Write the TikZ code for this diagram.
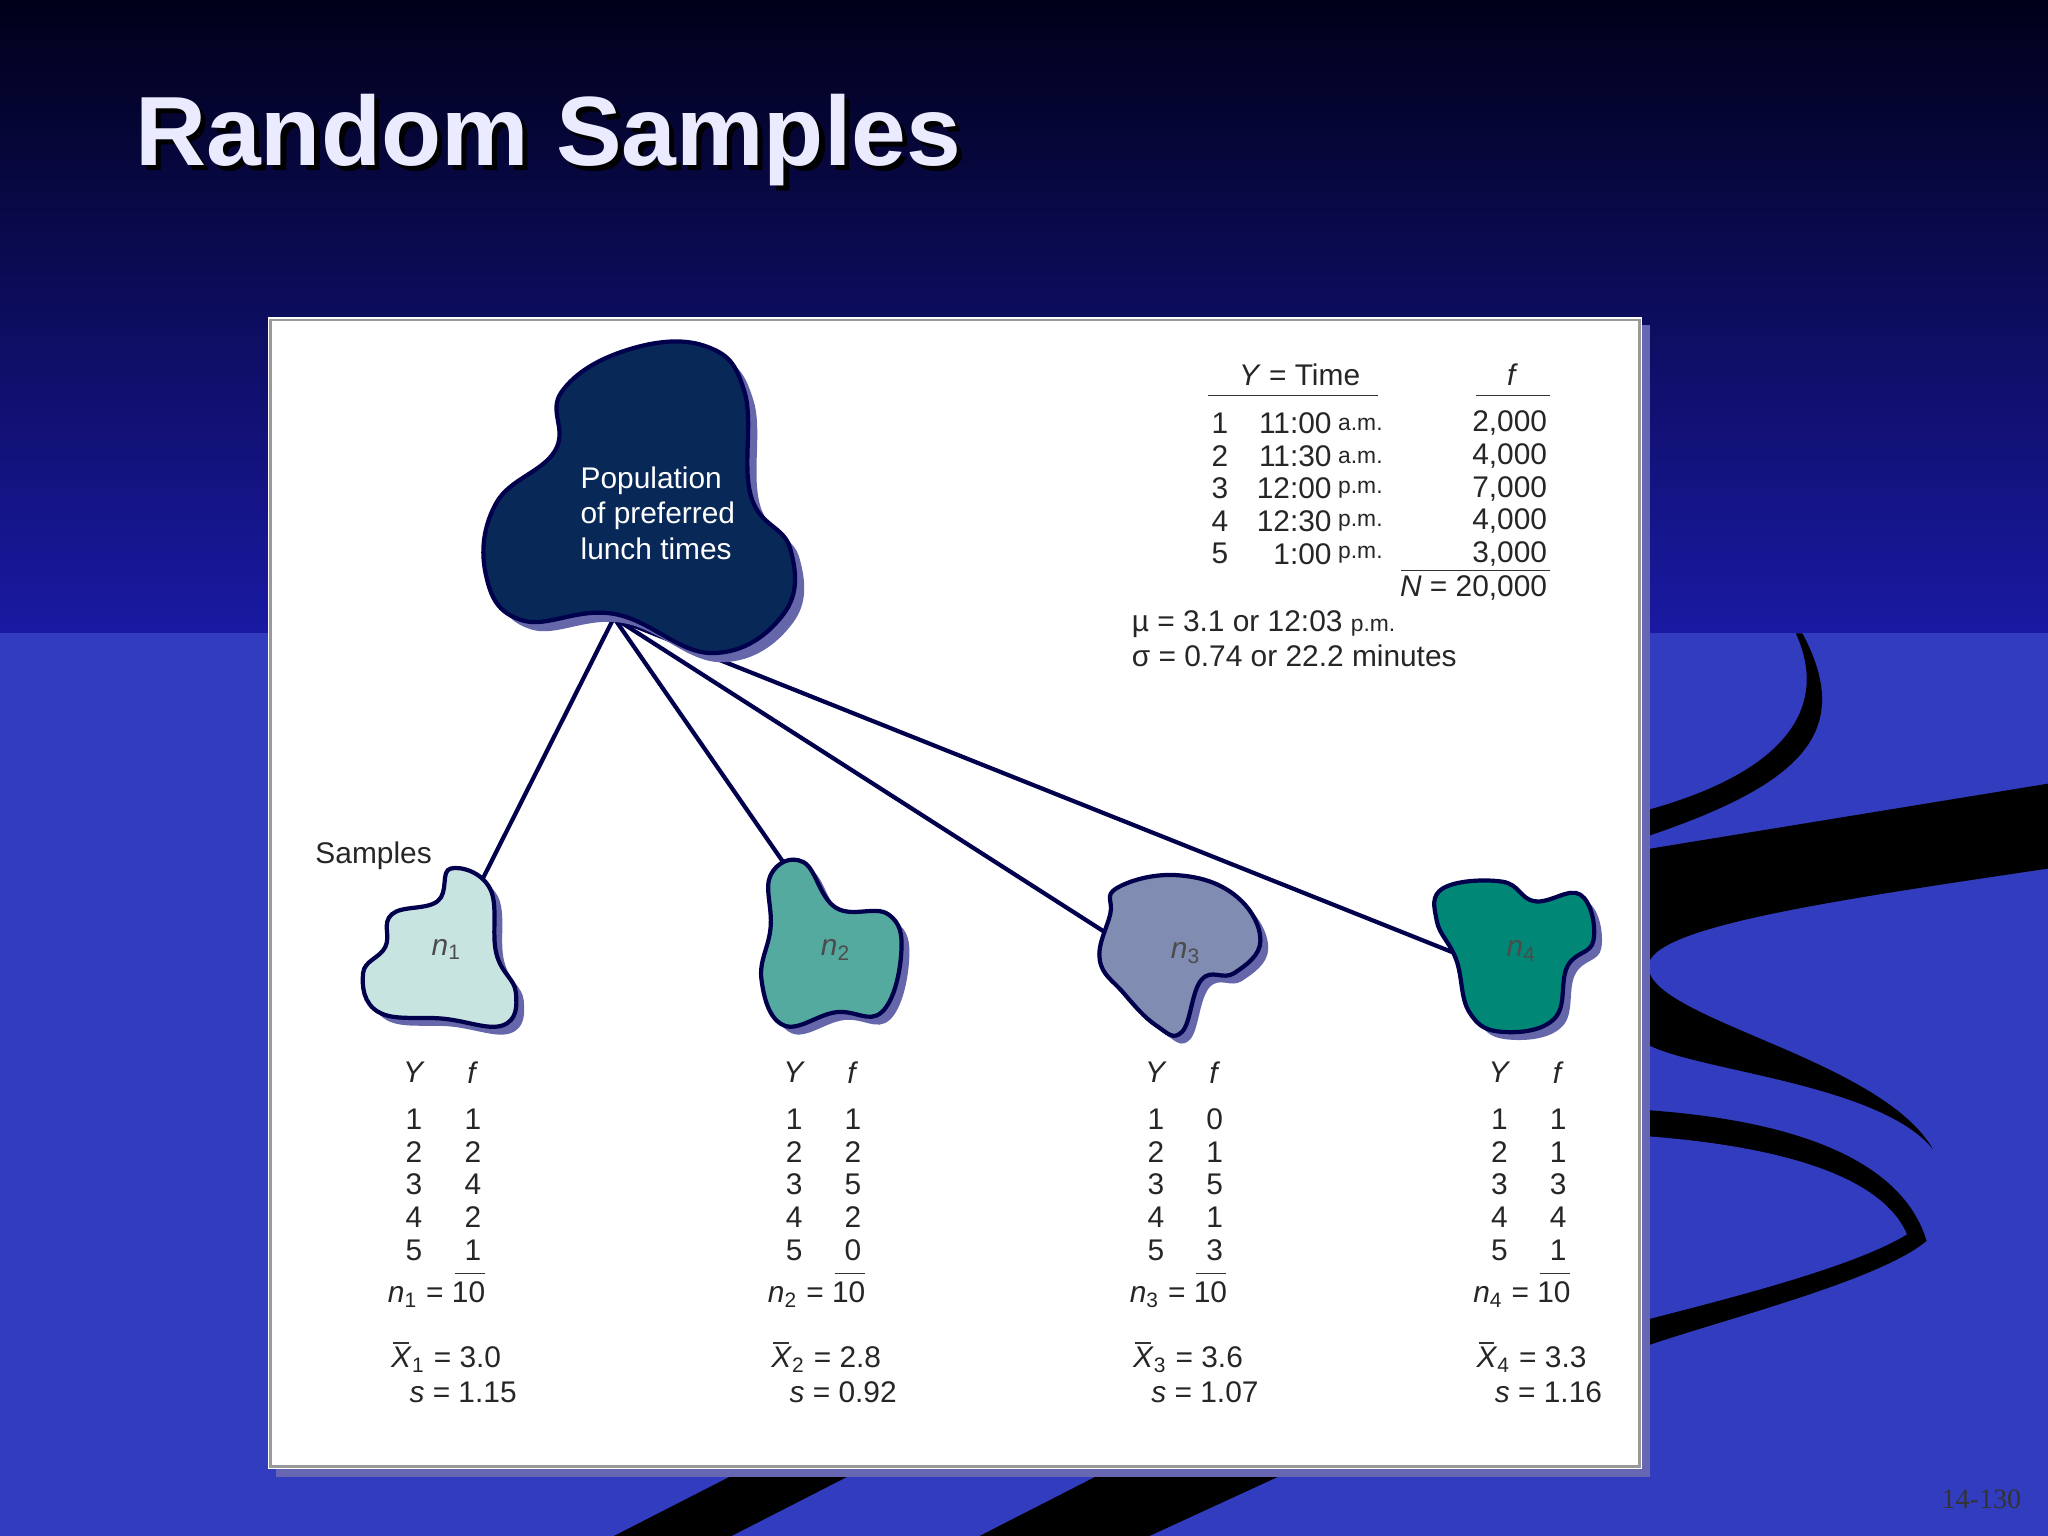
\documentclass[tikz,border=0pt]{standalone}
\usepackage{fontspec}
\setmainfont{Liberation Sans}
\newfontfamily\serifpn{Liberation Serif}
\begin{document}
\begin{tikzpicture}[x=0.013061cm,y=-0.013061cm,
  txt/.style={font=\fontsize{8.5}{10}\selectfont,inner sep=0pt,text=black!85},
  blob/.style={draw=blue!30!black,line width=1.2pt},
  shadow/.style={fill=black!55!blue!60,draw=none}]
\useasboundingbox (0,0) rectangle (1568,1176);
% background
\shade[top color=blue!10!black,bottom color=blue!60!black!90] (0,0) rectangle (1568,485);
\fill[color={rgb,255:red,50;green,60;blue,190}] (0,485) rectangle (1568,1176);
% swooshes
\fill[black] (1380,485) .. controls (1420,560) and (1380,600) .. (1262,640) -- (1262,620) .. controls (1370,590) and (1400,540) .. (1375,485) -- cycle;
\fill[black] (1262,650) -- (1568,600) -- (1568,665) .. controls (1400,690) and (1262,710) .. (1262,740) .. controls (1262,780) and (1440,810) .. (1480,880) .. controls (1440,830) and (1300,820) .. (1262,800) -- cycle;
\fill[black] (1262,850) .. controls (1400,860) and (1460,900) .. (1475,950) .. controls (1440,980) and (1320,1010) .. (1262,1030) -- cycle;
\fill[color={rgb,255:red,50;green,60;blue,190}] (1262,870) .. controls (1390,880) and (1445,910) .. (1460,945) .. controls (1420,970) and (1320,995) .. (1262,1010) -- cycle;
\fill[black] (470,1176) -- (560,1130) -- (650,1130) -- (560,1176) -- cycle;
\fill[black] (750,1176) -- (840,1130) -- (980,1130) -- (880,1176) -- cycle;
% title
\node[anchor=west,font=\fontsize{28}{30}\selectfont\bfseries,text=black] at (98,111) {Random Samples};
\node[anchor=west,font=\fontsize{28}{30}\selectfont\bfseries,text=white!92!blue] at (94,107) {Random Samples};
% panel
\fill[black!50!blue!60] (211,249) rectangle (1263,1131);
\fill[white] (205,243) rectangle (1257,1125);
\draw[black!40,line width=0.8pt] (207,245) rectangle (1255,1123);
% lines
\coordinate (p) at (470,473);
\coordinate (a1) at (370,672);
\coordinate (a2) at (601,662);
\coordinate (a3) at (848,715);
\coordinate (a4) at (1122,733);
\foreach \t in {a1,a2,a3,a4} \draw[blue!30!black,line width=1.2pt] (p) -- (\t);
% population blob
\def\popb{(430,300) (480,268) (540,265) (570,300) (575,380) (605,420) (600,470) (545,500) (470,470) (400,475) (372,440) (380,385) (425,345)}
\begin{scope}[shift={(7,7)}]\fill[shadow] plot[smooth cycle,tension=0.7] coordinates {\popb};\end{scope}
\fill[blob,fill={rgb,255:red,8;green,40;blue,88}] plot[smooth cycle,tension=0.7] coordinates {\popb};
\node[txt,text=white,align=left,anchor=west] (pop) at (444,393) {Population\\of preferred\\lunch times};
% sample blobs
\def\bA{(300,700) (335,690) (345,665) (375,680) (380,730) (395,760) (385,785) (340,780) (290,775) (278,745) (295,725)}
\def\bB{(590,670) (615,660) (640,695) (680,700) (690,730) (675,775) (640,775) (600,785) (583,750) (590,710)}
\def\bC{(855,680) (900,670) (945,685) (965,720) (945,745) (920,750) (905,790) (885,785) (860,760) (842,735) (850,700)}
\def\bD{(1105,680) (1150,675) (1175,690) (1210,685) (1220,720) (1200,740) (1190,780) (1150,790) (1125,775) (1115,735) (1100,705)}
\foreach \b/\c in {\bA/{rgb,255:red,200;green,228;blue,225},\bB/{rgb,255:red,85;green,170;blue,160},\bC/{rgb,255:red,128;green,140;blue,178},\bD/{rgb,255:red,0;green,135;blue,118}}{
  \begin{scope}[shift={(6,6)}]\fill[shadow] plot[smooth cycle,tension=0.7] coordinates {\b};\end{scope}
  \fill[blob,fill=\c] plot[smooth cycle,tension=0.7] coordinates {\b};
}
\node[txt,text=black!70] (s1) at (342,727) {\textit{n}\textsubscript{1}};
\node[txt,text=black!70] (s2) at (640,727) {\textit{n}\textsubscript{2}};
\node[txt,text=black!70] (s3) at (908,730) {\textit{n}\textsubscript{3}};
\node[txt,text=black!70] (s4) at (1165,728) {\textit{n}\textsubscript{4}};
\node[txt,anchor=west] (samp) at (241,655) {Samples};
% top table
\node[txt] (h1) at (995,287) {\textit{Y} = Time};
\node[txt] (h2) at (1158,287) {\textit{f}};
\draw[black!80] (925,303) -- (1055,303) (1130,303) -- (1187,303) (1073,437) -- (1187,437);
\foreach \i/\tm/\ap/\fv [count=\k] in {1/11:00/a.m./2{,}000,2/11:30/a.m./4{,}000,3/12:00/p.m./7{,}000,4/12:30/p.m./4{,}000,5/1:00/p.m./3{,}000}{
  \node[txt] at (934,{299+25*\k}) {\i};
  \node[txt,anchor=east] at (1020,{299+25*\k}) {\tm};
  \node[txt,anchor=west,font=\fontsize{6.5}{8}\selectfont] at (1024,{300+25*\k}) {\ap};
  \node[txt,anchor=east] at (1185,{299+25*\k}) {\fv};
}
\node[txt,anchor=east] at (1185,450) {\textit{N} = 20,000};
\node[txt,anchor=west] at (866,478) {µ = 3.1 or 12:03 {\fontsize{6.5}{8}\selectfont p.m.}};
\node[txt,anchor=west] at (866,502) {σ = 0.74 or 22.2 minutes};
% sample tables
\foreach \x/\n/\fa/\fb/\fc/\fd/\fe/\m/\s in {317/1/1/2/4/2/1/3.0/1.15,608/2/1/2/5/2/0/2.8/0.92,885/3/0/1/5/1/3/3.6/1.07,1148/4/1/1/3/4/1/3.3/1.16}{
  \node[txt] at (\x,821) {\textit{Y}};
  \node[txt] at (\x+45,821) {\textit{f}};
  \foreach \v/\f [count=\k] in {1/\fa,2/\fb,3/\fc,4/\fd,5/\fe}{
    \node[txt] at (\x,{832+25*\k}) {\v};
    \node[txt] at (\x+45,{832+25*\k}) {\f};
  }
  \draw[black!80] (\x+31,975) -- (\x+54,975);
  \node[txt,anchor=east] at (\x+55,991) {\textit{n}\textsubscript{\n} = 10};
  \node[txt,anchor=west] (xb\n) at (\x-18,1041) {\textit{X}\textsubscript{\n} = \m};
  \draw[black!80,line width=0.6pt] (\x-16,1028) -- (\x-4,1028);
  \node[txt,anchor=west] at (\x-4,1066) {\textit{s} = \s};
}
\node[font=\serifpn\fontsize{8}{9}\selectfont,text=black!80] (pg) at (1517,1148) {14-130};
\end{tikzpicture}
\end{document}
